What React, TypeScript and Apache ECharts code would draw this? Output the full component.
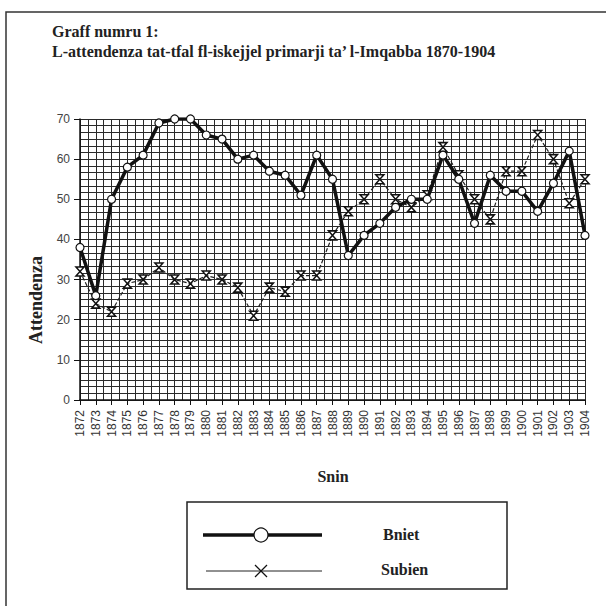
import React, { useEffect, useRef } from "react";
import * as echarts from "echarts";

const years = [
  "1872", "1873", "1874", "1875", "1876", "1877", "1878", "1879", "1880", "1881", "1882",
  "1883", "1884", "1885", "1886", "1887", "1888", "1889", "1890", "1891", "1892", "1893",
  "1894", "1895", "1896", "1897", "1898", "1899", "1900", "1901", "1902", "1903", "1904",
];
const bniet = [38, 26, 50, 58, 61, 69, 70, 70, 66, 65, 60, 61, 57, 56, 51, 61, 55, 36, 41, 44, 48, 50, 50, 61, 55, 44, 56, 52, 52, 47, 54, 62, 41];
const subien = [32, 24, 22, 29, 30, 33, 30, 29, 31, 30, 28, 21, 28, 27, 31, 31, 41, 47, 50, 55, 50, 48, 51, 63, 56, 50, 45, 57, 57, 66, 60, 49, 55];
const yTicks = { min: 0, max: 70, interval: 10 };
const titleLines = ["Graff numru 1:", "L-attendenza tat-tfal fl-iskejjel primarji ta\u2019 l-Imqabba 1870-1904"];
const yName = "Attendenza";
const xName = "Snin";
const seriesNames = ["Bniet", "Subien"];

const serif = '"Liberation Serif", "Times New Roman", serif';
const sans = '"Liberation Sans", Arial, sans-serif';
const gridColor = "#2a2a2a";

export default function App() {
  const ref = useRef<HTMLDivElement>(null);
  useEffect(() => {
    if (!ref.current) return;
    const chart = echarts.init(ref.current, undefined, { renderer: "svg" });
    const option: any = {
      animation: false,
      backgroundColor: "#fff",
      grid: { left: 80, right: 21, top: 119, bottom: 206, containLabel: false },
      xAxis: [
        {
          type: "category",
          data: years,
          boundaryGap: false,
          axisLine: { show: true, lineStyle: { color: "#111", width: 1.5 } },
          axisTick: { show: true, length: 5, interval: 0, lineStyle: { color: "#111" } },
          axisLabel: { interval: 0, rotate: 90, fontSize: 12, color: "#333", fontFamily: sans, margin: 10 },
          splitLine: { show: false },
          z: 3,
        },
        {
          type: "value",
          min: 0,
          max: years.length - 1,
          interval: 0.5,
          position: "bottom",
          axisLine: { show: false },
          axisTick: { show: false },
          axisLabel: { show: false },
          splitLine: { show: true, lineStyle: { color: gridColor, width: 1 } },
        },
      ],
      yAxis: [
        {
          type: "value",
          min: yTicks.min,
          max: yTicks.max,
          interval: yTicks.interval,
          axisLine: { show: true, lineStyle: { color: "#111", width: 1.5 } },
          axisTick: { show: true, length: 6, lineStyle: { color: "#111" } },
          axisLabel: { fontSize: 12, color: "#444", fontFamily: sans, margin: 10 },
          splitLine: { show: false },
          z: 3,
        },
        {
          type: "value",
          min: 0,
          max: 42,
          interval: 1,
          axisLine: { show: false },
          axisTick: { show: false },
          axisLabel: { show: false },
          splitLine: { show: true, lineStyle: { color: gridColor, width: 1 } },
        },
      ],
      series: [
        {
          name: seriesNames[0],
          type: "line",
          data: bniet,
          xAxisIndex: 0,
          yAxisIndex: 0,
          symbol: "circle",
          symbolSize: 8,
          showAllSymbol: true,
          lineStyle: { color: "#111", width: 3.5 },
          itemStyle: { color: "#fff", borderColor: "#111", borderWidth: 1.2 },
          z: 5,
        },
        {
          name: seriesNames[1],
          type: "line",
          data: subien,
          xAxisIndex: 0,
          yAxisIndex: 0,
          symbol: "path://M0,0L10,0L0,10L10,10Z",
          symbolSize: [8, 9],
          showAllSymbol: true,
          lineStyle: { color: "#222", width: 1.2, type: [4, 2] },
          itemStyle: { color: "#fff", borderColor: "#111", borderWidth: 1.5 },
          z: 4,
        },
      ],
      graphic: [
        {
          type: "rect",
          shape: { x: 6, y: 12, width: 640, height: 640 },
          style: { fill: "none", stroke: "#333", lineWidth: 1.5 },
          silent: true,
        },
        {
          type: "text",
          x: 52,
          y: 31,
          style: { text: titleLines[0], font: `bold 16px ${serif}`, fill: "#222", textAlign: "left", textVerticalAlign: "middle" },
        },
        {
          type: "text",
          x: 52,
          y: 51,
          style: { text: titleLines[1], font: `bold 16px ${serif}`, fill: "#222", textAlign: "left", textVerticalAlign: "middle" },
        },
        {
          type: "text",
          x: 36,
          y: 300,
          rotation: Math.PI / 2,
          style: { text: yName, font: `bold 18px ${serif}`, fill: "#222", textAlign: "center", textVerticalAlign: "middle" },
        },
        {
          type: "text",
          x: 333,
          y: 476,
          style: { text: xName, font: `bold 16px ${serif}`, fill: "#222", textAlign: "center", textVerticalAlign: "middle" },
        },
        {
          type: "rect",
          shape: { x: 187, y: 502, width: 320, height: 87 },
          style: { fill: "#fff", stroke: "#222", lineWidth: 1.5 },
        },
        {
          type: "line",
          shape: { x1: 203, y1: 535, x2: 322, y2: 535 },
          style: { stroke: "#111", lineWidth: 3.5 },
        },
        {
          type: "circle",
          shape: { cx: 261, cy: 535, r: 7 },
          style: { fill: "#fff", stroke: "#111", lineWidth: 1.2 },
          z: 10,
        },
        {
          type: "text",
          x: 383,
          y: 534,
          style: { text: seriesNames[0], font: `bold 16px ${serif}`, fill: "#222", textAlign: "left", textVerticalAlign: "middle" },
        },
        {
          type: "line",
          shape: { x1: 206, y1: 571, x2: 322, y2: 571 },
          style: { stroke: "#222", lineWidth: 1 },
        },
        {
          type: "line",
          shape: { x1: 255, y1: 565, x2: 267, y2: 577 },
          style: { stroke: "#111", lineWidth: 1.2 },
        },
        {
          type: "line",
          shape: { x1: 255, y1: 577, x2: 267, y2: 565 },
          style: { stroke: "#111", lineWidth: 1.2 },
        },
        {
          type: "text",
          x: 381,
          y: 569,
          style: { text: seriesNames[1], font: `bold 16px ${serif}`, fill: "#222", textAlign: "left", textVerticalAlign: "middle" },
        },
      ],
    };
    chart.setOption(option);
    return () => chart.dispose();
  }, []);
  return (
    <div
      ref={ref}
      style={{ position: "fixed", left: 0, top: 0, width: 606, height: 606, background: "#fff" }}
    />
  );
}
